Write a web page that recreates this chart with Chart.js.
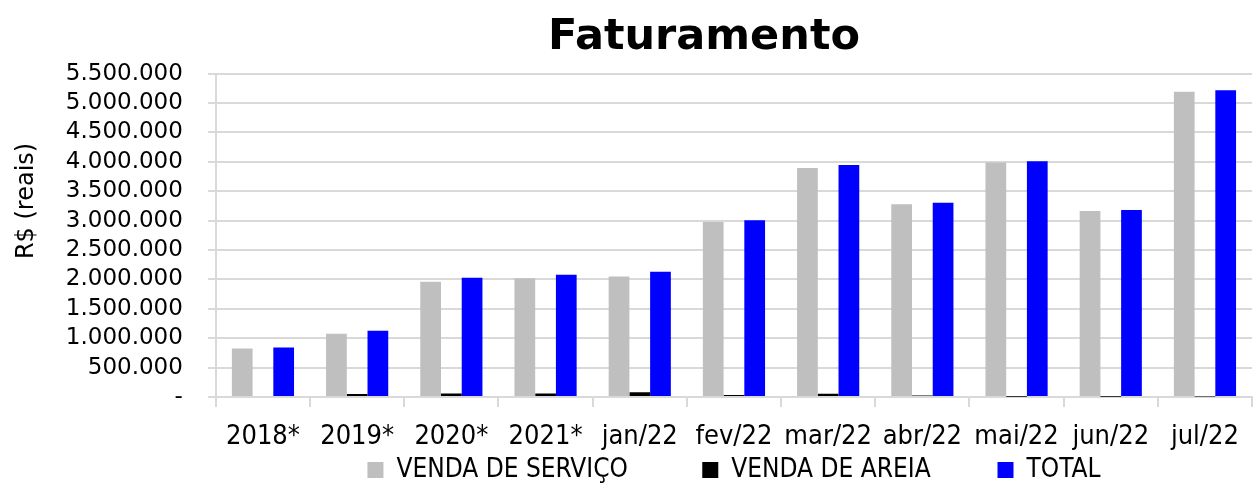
<!DOCTYPE html>
<html>
<head>
<meta charset="utf-8">
<script src="https://cdn.jsdelivr.net/npm/chart.js@4"></script>
<style>
  body { margin: 0; background: #fff; }
  #wrap { width: 1253px; height: 484px; }
</style>
</head>
<body>
<div id="wrap"><canvas id="myChart"></canvas></div>
<script>
const categorias = ['2018*', '2019*', '2020*', '2021*', 'jan/22', 'fev/22', 'mar/22', 'abr/22', 'mai/22', 'jun/22', 'jul/22'];
const vendaServico = [825000, 1074000, 1960000, 2020000, 2050000, 2978000, 3893000, 3278000, 3990000, 3164000, 5193000];
const vendaAreia = [15000, 52000, 60000, 58000, 80000, 34000, 57000, 25000, 5000, 3000, 10000];
const total = [842000, 1125000, 2030000, 2080000, 2130000, 3007000, 3944000, 3305000, 4010000, 3180000, 5215000];

const ctx = document.getElementById('myChart');
const fonte = "'DejaVu Sans', Verdana, sans-serif";
const fonteEstreita = "'DejaVu Sans Condensed', 'Liberation Sans Narrow', 'DejaVu Sans', sans-serif";
// espaço extra depois de cada item da legenda (como no Excel)
const espacos = [10, 9, 0];

function milhar(v) {
  if (v === 0) return '-';
  return String(v).replace(/\B(?=(\d{3})+(?!\d))/g, '.');
}

new Chart(ctx, {
  type: 'bar',
  data: {
    labels: categorias,
    datasets: [
      { label: 'VENDA DE SERVIÇO', data: vendaServico, backgroundColor: '#bfbfbf' },
      { label: 'VENDA DE AREIA', data: vendaAreia, backgroundColor: '#000000' },
      { label: 'TOTAL', data: total, backgroundColor: '#0000ff' }
    ]
  },
  options: {
    responsive: true,
    maintainAspectRatio: false,
    animation: false,
    datasets: {
      bar: { categoryPercentage: 0.66, barPercentage: 1.0 }
    },
    layout: { padding: { left: 12, right: 0, top: 0, bottom: -9 } },
    scales: {
      x: {
        afterFit: (scale) => { scale.height = 60; },
        grid: {
          offset: true,
          drawOnChartArea: false,
          color: '#d9d9d9',
          lineWidth: 2,
          tickLength: 10
        },
        border: { color: '#d9d9d9', width: 2 },
        ticks: {
          color: '#000',
          padding: 14,
          maxRotation: 0,
          autoSkip: false,
          font: { family: fonteEstreita, size: 27 }
        }
      },
      y: {
        min: 0,
        max: 5500000,
        grid: { color: '#d9d9d9', lineWidth: 2, tickLength: 8 },
        border: { color: '#d9d9d9', width: 2 },
        ticks: {
          stepSize: 500000,
          autoSkip: false,
          color: '#000',
          padding: 25,
          font: { family: fonte, size: 23 },
          callback: (v) => milhar(v)
        },
        title: {
          display: true,
          // espaços à esquerda sobem o título, como no original
          text: '\u00a0'.repeat(9) + 'R$ (reais)',
          color: '#000',
          font: { family: fonte, size: 24 },
          padding: { top: 0, bottom: 0 }
        }
      }
    },
    plugins: {
      title: {
        display: true,
        text: 'Faturamento' + '\u00a0'.repeat(4),
        fullSize: false,
        color: '#000',
        font: { family: fonte, size: 43, weight: 'bold' },
        padding: { top: 12, bottom: 10 }
      },
      legend: {
        position: 'bottom',
        fullSize: false,
        labels: {
          color: '#000',
          boxWidth: 16,
          boxHeight: 16,
          padding: 0,
          font: { family: fonteEstreita, size: 26 },
          generateLabels: (chart) => {
            const itens = Chart.defaults.plugins.legend.labels.generateLabels(chart);
            itens.forEach((it, i) => {
              it.text = it.text + '\u00a0'.repeat(espacos[i]);
            });
            return itens;
          }
        }
      },
      tooltip: { enabled: false }
    }
  }
});
</script>
</body>
</html>
